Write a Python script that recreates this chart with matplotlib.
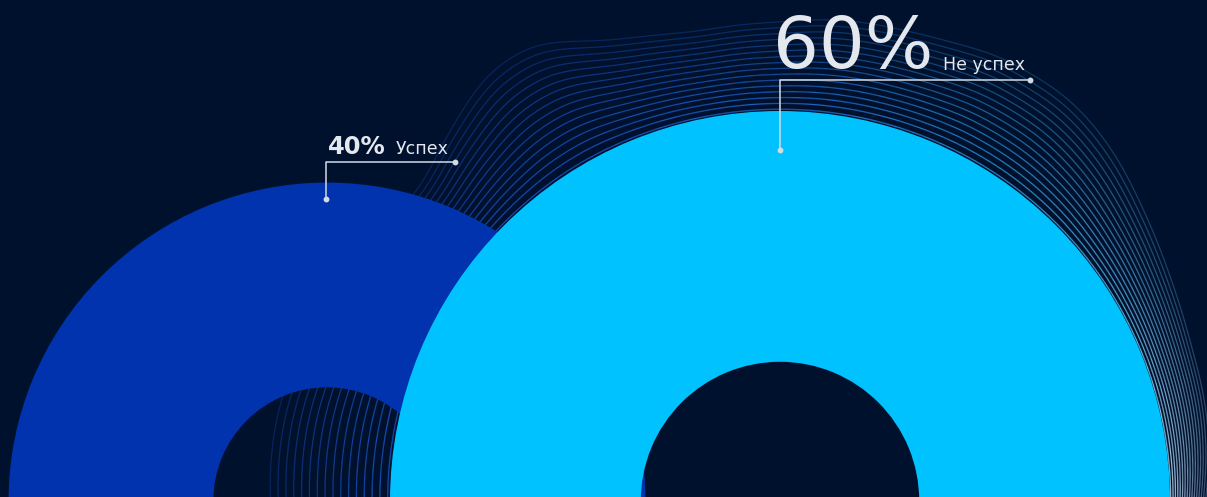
import numpy as np
import matplotlib
matplotlib.use("Agg")
import matplotlib.pyplot as plt
from matplotlib.patches import Wedge
from matplotlib.collections import LineCollection
from matplotlib.colors import to_rgba

# ---- data ----
labels = ["Успех", "Не успех"]
values = [40, 60]

# ---- style / layout ----
BG = "#00112e"
ring_colors = ["#0033ad", "#00c2ff"]
text_color = "#e4e8ee"
W, H = 1207, 497
centers_x = [327, 780]
center_y = 501
K = 390 / np.sqrt(60)          # outer radius scale (area ~ value)
inner_ratio = 0.357

fig = plt.figure(figsize=(W / 100, H / 100), dpi=100, facecolor=BG)
ax = fig.add_axes([0, 0, 1, 1])
ax.set_facecolor(BG)
ax.set_xlim(0, W)
ax.set_ylim(H, 0)
ax.axis("off")

radii = [K * np.sqrt(v) for v in values]

# ---- decorative contour lines around the larger ring ----
cx, cy, R0 = centers_x[1], center_y, radii[1]
env_deg = np.array([-10, 0, 20, 40, 55, 64, 76, 90, 100, 111, 118, 124, 130, 138, 150, 165, 180, 195])
env_off = np.array([34, 36, 52, 80, 108, 116, 102, 88, 92, 112, 134, 128, 110, 92, 100, 115, 128, 128])
theta = np.linspace(-10, 195, 1400)
S = np.interp(theta, env_deg, env_off)
ker = np.exp(-0.5 * (np.arange(-40, 41) / 14.0) ** 2)
ker /= ker.sum()
Sp = np.pad(S, 40, mode="edge")
S = np.convolve(Sp, ker, mode="valid")

col_deg = [0, 30, 60, 90, 120, 180]
col_rgb = np.array([to_rgba(c)[:3] for c in ["#b8d2e8", "#5cb2e0", "#2b8dd2", "#2066cc", "#1c52c4", "#1c52c4"]])
seg_rgb = np.stack([np.interp(theta, col_deg, col_rgb[:, i]) for i in range(3)], axis=1)

N = 16
t = np.radians(theta)
for k in range(0, N):
    f = (k + 0.3) / N
    wav = 0.05 * S * f * np.sin(t * 9 + 0.4)
    r = R0 + S * f + wav
    x = cx + r * np.cos(t)
    y = cy - r * np.sin(t)
    pts = np.stack([x, y], axis=1)
    segs = np.stack([pts[:-1], pts[1:]], axis=1)
    alpha = 1.0 * (1 - 0.72 * f)
    cols = np.concatenate([seg_rgb[:-1], np.full((len(segs), 1), alpha)], axis=1)
    ax.add_collection(LineCollection(segs, colors=cols, linewidths=0.9, zorder=1))

# ---- rings ----
for i, (xc, R) in enumerate(zip(centers_x, radii)):
    ax.add_patch(Wedge((xc, center_y), R, 0, 360, width=R * (1 - inner_ratio),
                       facecolor=ring_colors[i], edgecolor="none", zorder=2 + i))

# ---- labels with leader lines ----
fam = ["DejaVu Sans"]
lc = "#d3dae4"
# 40%
x0, yv0, yh0, xe0 = 326, 199, 162, 455
ax.plot([x0, x0, xe0], [yv0, yh0, yh0], color=lc, lw=1.1, zorder=6, solid_capstyle="butt")
ax.plot([x0, xe0], [yv0, yh0], "o", color=lc, ms=3.2, zorder=7)
ax.text(328, 154, f"{values[0]}%", color=text_color, fontsize=17.5, fontweight="bold",
        family=fam, ha="left", va="baseline", zorder=8)
ax.text(396, 154, labels[0], color=text_color, fontsize=12.5, family=fam,
        ha="left", va="baseline", zorder=8)
# 60%
x1, yv1, yh1, xe1 = 780, 150, 80, 1030
ax.plot([x1, x1, xe1], [yv1, yh1, yh1], color=lc, lw=1.1, zorder=6, solid_capstyle="butt")
ax.plot([x1, xe1], [yv1, yh1], "o", color=lc, ms=3.2, zorder=7)
ax.text(773, 68, f"{values[1]}%", color=text_color, fontsize=52,
        family=fam, ha="left", va="baseline", zorder=8)
ax.text(943, 70, labels[1], color=text_color, fontsize=12.5, family=fam,
        ha="left", va="baseline", zorder=8)

fig.savefig("out.png", dpi=100, facecolor=BG)
